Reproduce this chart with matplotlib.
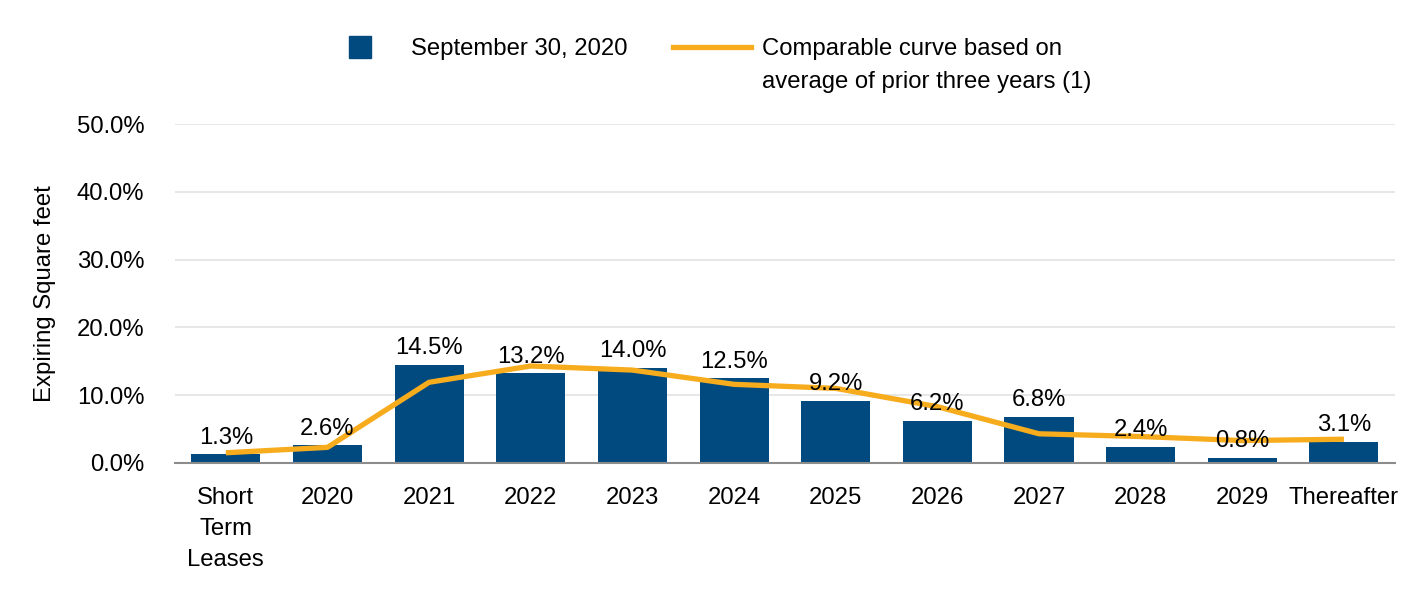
import matplotlib.pyplot as plt
from matplotlib.lines import Line2D

plt.rcParams['font.family'] = ['Liberation Sans', 'DejaVu Sans']

categories = ["Short\nTerm\nLeases", "2020", "2021", "2022", "2023", "2024",
              "2025", "2026", "2027", "2028", "2029", "Thereafter"]
expiring = [1.3, 2.6, 14.5, 13.2, 14.0, 12.5, 9.2, 6.2, 6.8, 2.4, 0.8, 3.1]
comparable = [1.5, 2.3, 11.9, 14.3, 13.7, 11.6, 11.0, 8.3, 4.3, 3.9, 3.3, 3.5]

bar_color = "#004a7f"
line_color = "#f7ac1e"
fs = 17.2

fig = plt.figure(figsize=(14.16, 5.92), dpi=100)
ax = fig.add_axes([0.1236, 0.218, 0.8614, 0.5725])

x = range(len(categories))
ax.bar(x, expiring, width=0.68, color=bar_color, zorder=2)
ax.plot(x, comparable, color=line_color, linewidth=3.8, zorder=3,
        solid_capstyle="butt")

for i, v in enumerate(expiring):
    ax.annotate(f"{v:.1f}%", (i, v), xytext=(0, 4), textcoords="offset points",
                ha="center", va="bottom", fontsize=fs, zorder=4)

ax.set_xlim(-0.5, len(categories) - 0.5)
ax.set_ylim(0, 50)
ax.set_yticks([0, 10, 20, 30, 40, 50])
ax.set_yticklabels([f"{t:.1f}%" for t in [0, 10, 20, 30, 40, 50]])
ax.set_xticks(list(x))
ax.set_xticklabels(categories, linespacing=1.55)
ax.tick_params(axis="both", length=0, labelsize=fs)
ax.tick_params(axis="x", pad=17)
ax.tick_params(axis="y", pad=22)
ax.grid(axis="y", color="#e3e3e3", linewidth=1.2, zorder=0)
ax.set_axisbelow(True)
for s in ["top", "right", "left"]:
    ax.spines[s].set_visible(False)
ax.spines["bottom"].set_color("#8c8c8c")
ax.spines["bottom"].set_linewidth(1.5)

ax.set_ylabel("Expiring Square feet", fontsize=fs, labelpad=15)

handles = [
    Line2D([], [], marker="s", linestyle="none", markersize=16,
           markerfacecolor=bar_color, markeredgecolor=bar_color),
    Line2D([], [], color=line_color, linewidth=3.8),
]
labels = ["September 30, 2020", "Comparable curve based on"]
leg = fig.legend(handles, labels, loc="center left", bbox_to_anchor=(0.227, 1 - 49 / 592),
                 ncol=2, frameon=False, fontsize=fs, handlelength=3.25,
                 handletextpad=0.5, columnspacing=1.9, borderpad=0, borderaxespad=0)

# second line of the two-line legend label, under the first
fig.canvas.draw()
bb = leg.get_texts()[1].get_window_extent().transformed(fig.transFigure.inverted())
fig.text(bb.x0, bb.y0 - 33 / 592, "average of prior three years (1)",
         fontsize=fs, ha="left", va="bottom")

fig.savefig("out.png", dpi=100)
